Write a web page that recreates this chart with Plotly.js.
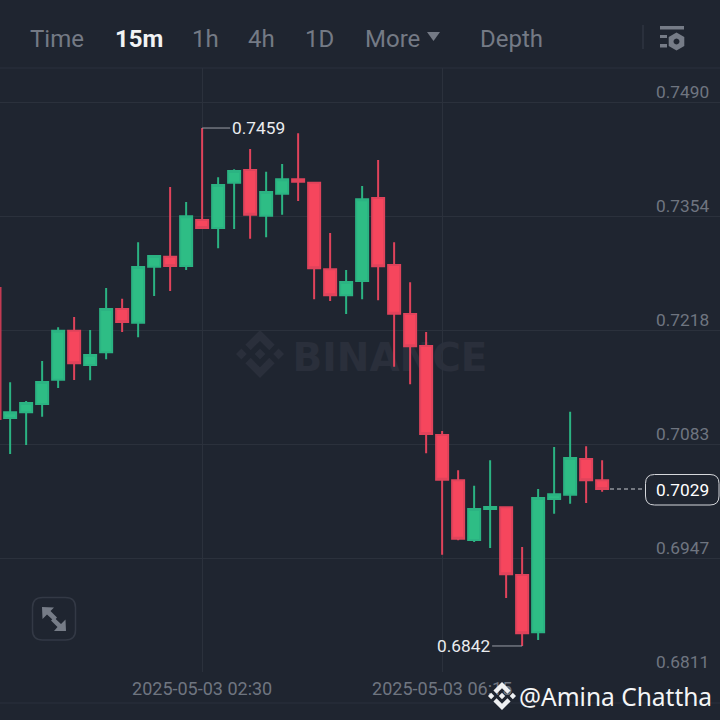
<!DOCTYPE html>
<html><head><meta charset="utf-8">
<script src="https://cdn.plot.ly/plotly-3.0.1.min.js"></script>
<style>html,body{margin:0;padding:0;background:#1f2530}</style></head>
<body><div id="chart" style="width:720px;height:720px"></div>
<script>
const times=["2025-05-02 23:30","2025-05-02 23:45","2025-05-03 00:00","2025-05-03 00:15","2025-05-03 00:30","2025-05-03 00:45","2025-05-03 01:00","2025-05-03 01:15","2025-05-03 01:30","2025-05-03 01:45","2025-05-03 02:00","2025-05-03 02:15","2025-05-03 02:30","2025-05-03 02:45","2025-05-03 03:00","2025-05-03 03:15","2025-05-03 03:30","2025-05-03 03:45","2025-05-03 04:00","2025-05-03 04:15","2025-05-03 04:30","2025-05-03 04:45","2025-05-03 05:00","2025-05-03 05:15","2025-05-03 05:30","2025-05-03 05:45","2025-05-03 06:00","2025-05-03 06:15","2025-05-03 06:30","2025-05-03 06:45","2025-05-03 07:00","2025-05-03 07:15","2025-05-03 07:30","2025-05-03 07:45","2025-05-03 08:00","2025-05-03 08:15","2025-05-03 08:30","2025-05-03 08:45"];
const open=[.71136,.71204,.71302,.71592,.72176,.71767,.71918,.72434,.72271,.72938,.73057,.72946,.73494,.73399,.73939,.7409,.73546,.73808,.73979,.73939,.72907,.72597,.72768,.73756,.72958,.72375,.71993,.70933,.70394,.69682,.70052,.70072,.69265,.68583,.70171,.70222,.70647,.70394];
const close=[.71204,.71314,.71565,.72176,.71787,.71886,.72434,.72279,.72934,.73066,.72946,.73538,.73399,.73911,.74078,.73557,.73828,.73979,.73951,.72919,.72597,.72756,.73741,.72943,.72378,.7199,.70945,.70401,.69698,.70052,.70076,.69274,.68571,.70183,.70227,.70659,.70394,.7029];
const high=[.71561,.71338,.71815,.72216,.72339,.72184,.72684,.72557,.73229,.73069,.73887,.73709,.7459,.74003,.74098,.7434,.7407,.74161,.74527,.73943,.73339,.72899,.73899,.74209,.73229,.72752,.7216,.70981,.70513,.70329,.70632,.70076,.69599,.7029,.7079,.71211,.70799,.70632];
const low=[.70707,.70814,.71151,.71493,.71588,.71585,.71835,.7216,.72097,.72589,.72649,.72899,.73399,.73157,.73387,.73272,.73288,.73557,.73721,.7255,.72529,.72375,.7255,.72538,.71747,.71537,.70715,.69507,.69679,.69659,.69587,.68991,.6842,.68491,.69996,.70115,.70123,.70258];
const edgeWickTimes=["2025-05-02 23:21","2025-05-02 23:21"];
const edgeWickPrices=[.72696,.71112];
const priceTicks=[.7490,.73542,.72184,.70826,.69468,.6811];
const priceLabels=["0.7490","0.7354","0.7218","0.7083","0.6947","0.6811"];
const timeTicks=["2025-05-03 02:30","2025-05-03 06:15"];
const lastPrice=.7029;

const BG="#1f2530",GRID="#2b313c",MUTED="#747a85",RED="#f6465d",GREEN="#2ebd85";
const W=720,TOP=68,BOT=672;
const px=x=>x/W, py=y=>(BOT-y)/(BOT-TOP);
const path=(pts)=>"M"+pts.map(p=>px(p[0])+","+py(p[1])).join("L")+"Z";
function logoPath(cx,cy,r){
  const s=r/16, P=a=>a.map(p=>[cx+(p[0]-16)*s,cy+(p[1]-16)*s]);
  return [
    [[9.8,13.45],[16,7.25],[22.2,13.45],[25.8,9.85],[16,0],[6.2,9.85]],
    [[9.8,18.55],[16,24.75],[22.2,18.55],[25.8,22.15],[16,32],[6.2,22.15]],
    [[0,16],[3.6,12.4],[7.2,16],[3.6,19.6]],
    [[24.8,16],[28.4,12.4],[32,16],[28.4,19.6]],
    [[12.35,16],[16,12.35],[19.65,16],[16,19.65]]
  ].map(a=>path(P(a))).join("");
}
function roundRect(x0,y0,x1,y1,r){
  const X=px,Y=py;
  return `M${X(x0+r)},${Y(y0)}L${X(x1-r)},${Y(y0)}Q${X(x1)},${Y(y0)} ${X(x1)},${Y(y0+r)}L${X(x1)},${Y(y1-r)}Q${X(x1)},${Y(y1)} ${X(x1-r)},${Y(y1)}L${X(x0+r)},${Y(y1)}Q${X(x0)},${Y(y1)} ${X(x0)},${Y(y1-r)}L${X(x0)},${Y(y0+r)}Q${X(x0)},${Y(y0)} ${X(x0+r)},${Y(y0)}Z`;
}
const pShape=(d,fill,extra)=>Object.assign({type:"path",xref:"paper",yref:"paper",path:d,fillcolor:fill,line:{width:0}},extra||{});
const hLine=y=>({type:"line",xref:"paper",yref:"paper",x0:0,x1:1,y0:py(y),y1:py(y),line:{color:GRID,width:1}});
const hex2=(cx,cy,r)=>{const a=[];for(let i=0;i<6;i++){const t=Math.PI/3*i-Math.PI/2;a.push([cx+r*Math.cos(t),cy+r*Math.sin(t)]);}return path(a);};

const shapes=[
  hLine(TOP),hLine(703),
  pShape(logoPath(260,354,24),"#2a2f3b",{layer:"below"}),
  {type:"rect",xref:"paper",yref:"paper",x0:px(290),x1:px(490),y0:py(375),y1:py(333),layer:"below",line:{width:0},fillcolor:"rgba(0,0,0,0)",
   label:{text:"BINANCE",font:{family:"DejaVu Sans",size:39,color:"#2a2f3b",weight:700},textposition:"middle center"}},
  {type:"line",xref:"paper",yref:"y",x0:px(610),x1:px(645),y0:lastPrice,y1:lastPrice,line:{color:"#c9ccd1",width:1,dash:"4px,3px"}},
  pShape(roundRect(645.5,474.5,719,505,9),BG,{line:{color:"#d5d7db",width:1}}),
  pShape(roundRect(32.5,597.5,75.5,640,10),"rgba(0,0,0,0)",{line:{color:"#333945",width:1.5}}),
  pShape(path([[42,607],[54,607.5],[50.5,611],[57,617.5],[54,621],[47,614.5],[42.5,619]]),"#767c87"),
  pShape(path([[66,631],[54,631],[57.5,627],[51,620.5],[54,617.5],[61,624],[65.5,619.5]]),"#767c87"),
  {type:"line",xref:"paper",yref:"paper",x0:px(643),x1:px(643),y0:py(25),y1:py(49),line:{color:"#2f3541",width:1.5}},
  pShape(path([[660,26],[684,26],[684,29.5],[660,29.5]]),"#767c87"),
  pShape(path([[660,35],[667,35],[667,38],[660,38]]),"#767c87"),
  pShape(path([[660,44],[667,44],[667,47.5],[660,47.5]]),"#767c87"),
  pShape(hex2(676.5,41.5,9)+path((()=>{const a=[];for(let i=0;i<12;i++){const t=Math.PI/6*i;a.push([676.5+3*Math.cos(t),41.5+3*Math.sin(t)]);}return a;})()),"#767c87"),
  pShape(path([[427,32],[440,32],[433.5,41]]),"#747a85"),
  pShape(logoPath(502,696,14),"#eef0f2")
];

const annotations=[];
const tab=(t,x,c)=>annotations.push({xref:"paper",yref:"paper",x:px(x),y:py(39),xanchor:"left",yanchor:"middle",showarrow:false,text:t,
  font:{family:"Roboto",size:24,color:c}});
tab("Time",28,MUTED);tab("<b>15m</b>",113,"#f2f3f5");tab("1h",190,MUTED);tab("4h",246,MUTED);tab("1D",303,MUTED);tab("More",363,MUTED);tab("Depth",478,MUTED);
priceTicks.forEach((v,i)=>annotations.push({xref:"paper",yref:"y",x:px(711),y:v,xanchor:"right",yanchor:"middle",yshift:10,showarrow:false,text:priceLabels[i],
  font:{family:"Roboto",size:17.3,color:"#6f7580"}}));
annotations.push({x:timeTicks[0],y:.7459,xref:"x",yref:"y",text:"0.7459",xanchor:"left",yanchor:"middle",showarrow:true,arrowhead:0,arrowwidth:1,arrowcolor:"#9a9ea6",ax:28,ay:0,font:{family:"Roboto",size:17.3,color:"#eaecef"},standoff:0});
annotations.push({x:times[32],y:.6842,xref:"x",yref:"y",text:"0.6842",xanchor:"right",yanchor:"middle",showarrow:true,arrowhead:0,arrowwidth:1,arrowcolor:"#9a9ea6",ax:-30,ay:0,font:{family:"Roboto",size:17.3,color:"#eaecef"},standoff:0});
annotations.push({xref:"paper",yref:"y",x:px(682.5),y:lastPrice,yshift:-1,xanchor:"center",yanchor:"middle",showarrow:false,text:"0.7029",font:{family:"Roboto",size:17.3,color:"#ffffff"}});
annotations.push({xref:"paper",yref:"paper",x:px(714),y:py(696),xanchor:"right",yanchor:"middle",showarrow:false,text:"@Amina Chattha",font:{family:"Noto Sans",size:24.5,color:"#f4f5f6"}});

const data=[
 {type:"candlestick",x:times,open:open,high:high,low:low,close:close,whiskerwidth:0,hoverinfo:"skip",
  increasing:{line:{color:"#2bb382",width:2},fillcolor:GREEN},
  decreasing:{line:{color:"#e0435b",width:2},fillcolor:RED}},
 {type:"scatter",mode:"lines",x:edgeWickTimes,y:edgeWickPrices,line:{color:"#c23a52",width:2},hoverinfo:"skip"}
];
const layout={width:720,height:720,margin:{l:0,r:0,t:TOP,b:720-BOT,pad:0},paper_bgcolor:BG,plot_bgcolor:BG,showlegend:false,boxgap:.25,boxgroupgap:0,boxmode:"overlay",
 xaxis:{type:"date",range:["2025-05-02 23:20:30","2025-05-03 10:35:30"],rangeslider:{visible:false},tickmode:"array",tickvals:timeTicks,ticktext:timeTicks,
   showgrid:true,gridcolor:GRID,gridwidth:1,zeroline:false,showline:false,ticks:"",ticklabelstandoff:4,tickfont:{family:"Roboto",size:18,color:"#6f7580"},fixedrange:true},
 yaxis:{range:[.6811,.75305],tickmode:"array",tickvals:priceTicks,showticklabels:false,showgrid:true,gridcolor:GRID,gridwidth:1,zeroline:false,showline:false,ticks:"",fixedrange:true},
 shapes:shapes,annotations:annotations};
Plotly.newPlot("chart",data,layout,{displayModeBar:false,staticPlot:true});
</script></body></html>
